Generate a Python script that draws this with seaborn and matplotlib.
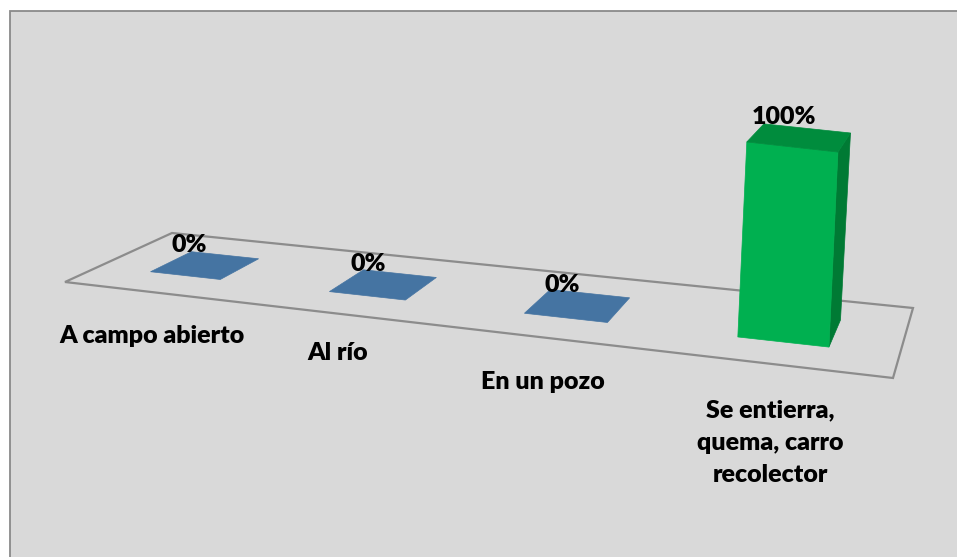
import numpy as np
import pandas as pd
import matplotlib
matplotlib.use("Agg")
import matplotlib.pyplot as plt
from matplotlib.patches import Polygon, Rectangle
import seaborn as sns

# ---------------- data ----------------
categories = ["A campo abierto", "Al río", "En un pozo",
              "Se entierra,\nquema, carro\nrecolector"]
values = [0, 0, 0, 100]
value_labels = ["0%", "0%", "0%", "100%"]

# ---------------- style / layout ----------------
sns.set_theme(style="white")
FONT = ["Lato", "DejaVu Sans"]
plt.rcParams["font.family"] = FONT
FS = 18
FW = "heavy"

BG = "#d9d9d9"
FRAME = "#8a8a8a"
FLOOR_EDGE = "#8c8c8c"
TILE = "#4574a2"
GREEN_FRONT = "#00b050"
GREEN_TOP = "#008c3d"
GREEN_SIDE = "#007a34"
BAR_COLORS = [TILE, TILE, TILE, GREEN_FRONT]

W, H = 957, 557
# floor corners in pixel space: front-left, front-right, back-right, back-left
FLOOR = [(65, 282), (893, 378), (913, 308), (172, 233)]
DEPTH = (0.3, 0.7)          # gap depth 150 %
BAR_WIDTH = 0.4             # gap width 150 %
VMAX = 100.0

# category label placement (centre x, first baseline y) and line spacing
CAT_POS = [(152, 343), (338, 360), (543, 389), (770, 417)]
LINE_STEP = 32.5
LABEL_OFF = (-16, -13)

# ---------------- projection helpers ----------------
def homography(src, dst):
    A, b = [], []
    for (x, y), (X, Y) in zip(src, dst):
        A.append([x, y, 1, 0, 0, 0, -X * x, -X * y]); b.append(X)
        A.append([0, 0, 0, x, y, 1, -Y * x, -Y * y]); b.append(Y)
    h = np.linalg.solve(np.array(A, float), np.array(b, float))
    return np.append(h, 1).reshape(3, 3)

HM = homography([(0, 0), (1, 0), (1, 1), (0, 1)], FLOOR)
n = len(categories)


def up_vec(w):
    return np.array([8.25 + 2.5 * w, -201 + 20 * w])


def proj(u, w, z):
    p = HM @ np.array([u, w, 1.0])
    xy = p[:2] / p[2]
    return xy + (z / VMAX) * up_vec(w)


def cat_to_u(x):
    return (x + 0.5) / n


# ---------------- bar geometry from seaborn ----------------
fig = plt.figure(figsize=(W / 100, H / 100), dpi=100)
fig.patch.set_facecolor("white")
helper = fig.add_axes([0, 0, 1, 1])
df = pd.DataFrame({"cat": categories, "val": values})
sns.barplot(data=df, x="cat", y="val", width=BAR_WIDTH, ax=helper)
bars = []
for patch in helper.patches:
    bars.append((patch.get_x(), patch.get_x() + patch.get_width(), patch.get_height()))
helper.remove()

ax = fig.add_axes([0, 0, 1, 1])
ax.set_xlim(0, W)
ax.set_ylim(H, 0)
ax.axis("off")

# chart area
ax.add_patch(Rectangle((9.5, 10.5), W + 30, H + 30, facecolor=BG,
                       edgecolor=FRAME, linewidth=1.3, zorder=0))

# floor
floor_pts = [proj(u, w, 0) for u, w in [(0, 0), (1, 0), (1, 1), (0, 1)]]
ax.add_patch(Polygon(floor_pts, closed=True, facecolor="none",
                     edgecolor=FLOOR_EDGE, linewidth=1.6, zorder=1))

w0, w1 = DEPTH
for i, (x0, x1, z) in enumerate(bars):
    u0, u1 = cat_to_u(x0), cat_to_u(x1)
    top = [proj(u0, w0, z), proj(u1, w0, z), proj(u1, w1, z), proj(u0, w1, z)]
    if z > 0:
        front = [proj(u0, w0, 0), proj(u1, w0, 0), proj(u1, w0, z), proj(u0, w0, z)]
        side = [proj(u1, w0, 0), proj(u1, w1, 0), proj(u1, w1, z), proj(u1, w0, z)]
        ax.add_patch(Polygon(side, closed=True, facecolor=GREEN_SIDE,
                             edgecolor=GREEN_SIDE, linewidth=0.5, zorder=3))
        ax.add_patch(Polygon(front, closed=True, facecolor=BAR_COLORS[i],
                             edgecolor=BAR_COLORS[i], linewidth=0.5, zorder=3))
        ax.add_patch(Polygon(top, closed=True, facecolor=GREEN_TOP,
                             edgecolor=GREEN_TOP, linewidth=0.5, zorder=3))
    else:
        ax.add_patch(Polygon(top, closed=True, facecolor=BAR_COLORS[i],
                             edgecolor=BAR_COLORS[i], linewidth=0.5, zorder=2))
    c = proj((u0 + u1) / 2, (w0 + w1) / 2, z)
    ax.text(c[0] + LABEL_OFF[0], c[1] + LABEL_OFF[1], value_labels[i],
            ha="center", va="baseline", fontsize=FS, fontweight=FW,
            color="black", zorder=5)

# category labels
for (cx, by), lab in zip(CAT_POS, categories):
    for k, line in enumerate(lab.split("\n")):
        ax.text(cx, by + k * LINE_STEP, line, ha="center", va="baseline",
                fontsize=FS, fontweight=FW, color="black", zorder=5)

fig.savefig("out.png", dpi=100, facecolor="white")
